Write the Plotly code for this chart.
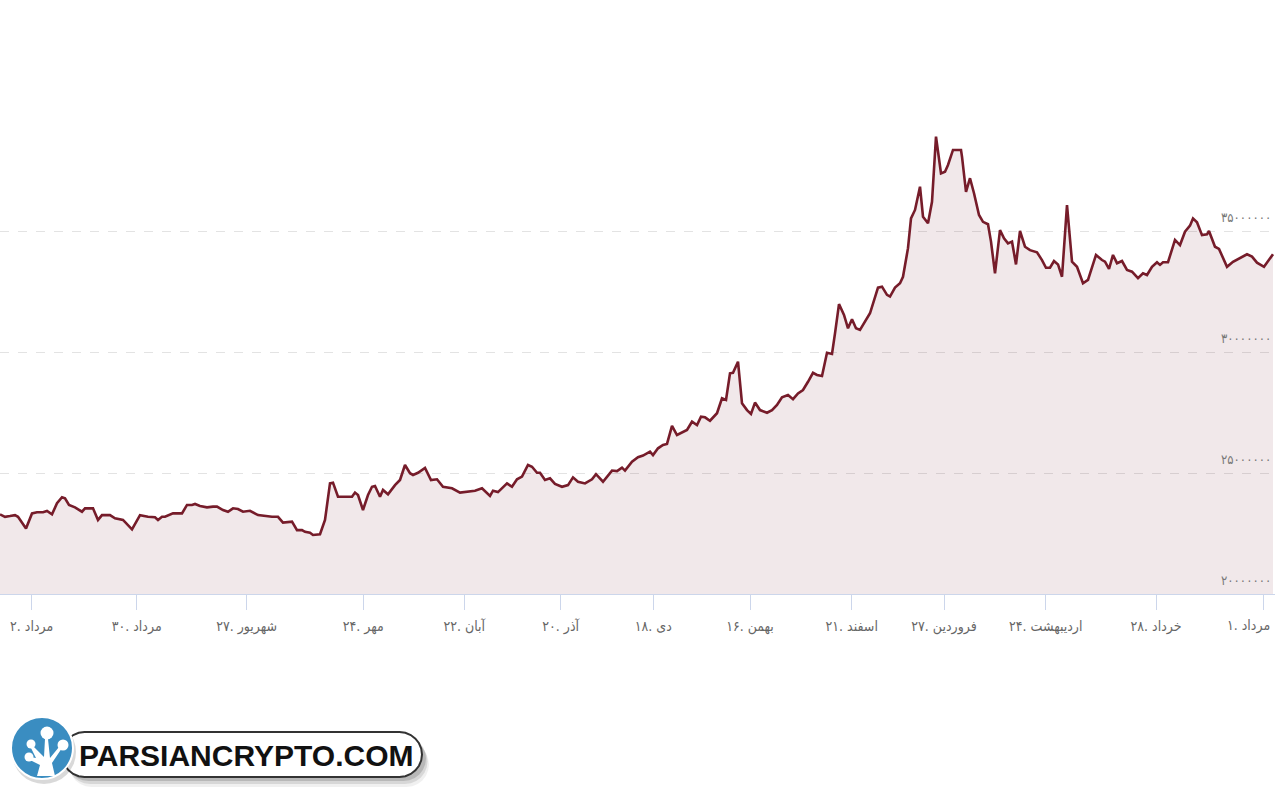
import plotly.graph_objects as go

# ---------------- data ----------------
# session index (time axis) and price (millions of rial)
t = [0, 5, 10, 15, 18, 26, 32, 37, 43, 47, 52, 57, 62, 65, 69, 75, 82, 85, 93, 98,
     102, 110, 115, 123, 132, 140, 148, 155, 158, 162, 165, 173, 182, 187, 192, 195, 200, 207, 213, 217,
     223, 228, 233, 238, 243, 250, 258, 265, 272, 278, 283, 292, 297, 302, 305, 310, 313, 320, 325, 330,
     333, 338, 347, 352, 355, 358, 363, 368, 372, 375, 380, 383, 388, 395, 400, 405, 410, 413, 418, 425,
     431, 437, 443, 452, 460, 468, 475, 482, 490, 493, 498, 507, 512, 517, 522, 528, 532, 537, 540, 545,
     550, 555, 562, 568, 573, 578, 585, 592, 596, 603, 612, 617, 622, 625, 632, 638, 643, 650, 653, 658,
     663, 667, 672, 677, 682, 687, 692, 697, 701, 705, 710, 717, 722, 726, 730, 733, 738, 742, 747, 751,
     755, 760, 767, 772, 777, 782, 788, 793, 798, 803, 808, 813, 817, 822, 827, 832, 835, 839, 844, 848,
     852, 856, 860, 865, 870, 878, 882, 887, 890, 895, 900, 903, 908, 911, 915, 920, 923, 928, 932, 936,
     941, 945, 948, 953, 961, 962, 966, 970, 974, 979, 983, 988, 991, 995, 1000, 1004, 1008, 1012, 1016, 1020,
     1025, 1030, 1037, 1042, 1046, 1050, 1054, 1058, 1062, 1067, 1072, 1077, 1083, 1088, 1096, 1102, 1105, 1109, 1113, 1117,
     1122, 1127, 1132, 1138, 1143, 1147, 1152, 1157, 1160, 1163, 1168, 1175, 1180, 1185, 1190, 1193, 1197, 1202, 1207, 1209,
     1215, 1219, 1227, 1233, 1242, 1247, 1252, 1257, 1264, 1273]

price_m = [23.29, 23.19, 23.22, 23.26, 23.19, 22.71, 23.33, 23.38, 23.38, 23.43, 23.29, 23.75, 24.00, 23.95, 23.68, 23.58, 23.40, 23.54, 23.54, 23.06,
           23.26, 23.26, 23.13, 23.06, 22.67, 23.26, 23.19, 23.17, 23.06, 23.19, 23.19, 23.33, 23.33, 23.68, 23.68, 23.72, 23.64, 23.58, 23.61, 23.61,
           23.47, 23.40, 23.54, 23.51, 23.40, 23.44, 23.26, 23.22, 23.19, 23.19, 22.95, 22.99, 22.64, 22.64, 22.57, 22.53, 22.44, 22.47, 23.06, 24.57,
           24.60, 24.02, 24.02, 24.02, 24.19, 24.09, 23.47, 24.09, 24.43, 24.46, 24.02, 24.30, 24.12, 24.50, 24.71, 25.33, 24.99, 24.92, 25.01, 25.21,
           24.71, 24.74, 24.43, 24.37, 24.19, 24.24, 24.27, 24.37, 24.05, 24.27, 24.21, 24.57, 24.43, 24.74, 24.85, 25.33, 25.26, 25.01, 25.01, 24.71,
           24.78, 24.55, 24.43, 24.50, 24.82, 24.64, 24.57, 24.74, 24.95, 24.64, 25.10, 25.08, 25.22, 25.10, 25.47, 25.65, 25.72, 25.88, 25.74, 26.02,
           26.16, 26.20, 26.95, 26.57, 26.67, 26.78, 27.12, 26.98, 27.33, 27.30, 27.16, 27.47, 28.09, 28.02, 29.12, 29.14, 29.60, 27.88, 27.60, 27.44,
           27.91, 27.60, 27.49, 27.60, 27.81, 28.13, 28.22, 28.05, 28.29, 28.43, 28.77, 29.14, 29.05, 29.01, 29.97, 29.92, 30.77, 31.98, 31.53, 30.98,
           31.35, 30.98, 30.91, 31.24, 31.60, 32.66, 32.70, 32.36, 32.29, 32.66, 32.84, 33.11, 34.29, 35.52, 35.87, 36.83, 35.59, 35.32, 36.21, 38.90,
           37.38, 37.45, 37.73, 38.35, 38.35, 38.07, 36.62, 37.18, 36.56, 35.66, 35.38, 35.28, 34.56, 33.25, 35.04, 34.70, 34.49, 34.56, 33.62, 35.00,
           34.35, 34.21, 34.12, 33.80, 33.48, 33.48, 33.76, 33.62, 33.11, 36.07, 33.73, 33.52, 32.84, 32.98, 34.01, 33.80, 33.73, 33.43, 34.01, 33.67,
           33.76, 33.39, 33.32, 33.05, 33.25, 33.18, 33.52, 33.71, 33.60, 33.71, 33.71, 34.63, 34.42, 34.97, 35.22, 35.52, 35.36, 34.83, 34.86, 35.00,
           34.35, 34.26, 33.52, 33.73, 33.94, 34.04, 33.94, 33.69, 33.52, 34.04]

tick_pos = [31.7, 136.7, 246.7, 363.3, 464.3, 560.7, 653.3, 750, 851.7, 944, 1045.7, 1156, 1263.3]
tick_day = ["۲", "۳۰", "۲۷", "۲۴", "۲۲", "۲۰", "۱۸", "۱۶", "۲۱", "۲۷", "۲۴", "۲۸", "۱"]
tick_month = ["مرداد", "مرداد", "شهریور", "مهر", "آبان", "آذر", "دی", "بهمن",
              "اسفند", "فروردین", "اردیبهشت", "خرداد", "مرداد"]

y_ticks = [20000000, 25000000, 30000000, 35000000]
y_tick_text = ["۲۰۰۰۰۰۰۰", "۲۵۰۰۰۰۰۰", "۳۰۰۰۰۰۰۰", "۳۵۰۰۰۰۰۰"]

price = [v * 1e6 for v in price_m]
tick_text = [f"{d}. {m}" for d, m in zip(tick_day, tick_month)]

# ---------------- layout geometry ----------------
L, R, T, B = 0, 5, 115, 206
W, H = 1280 - L - R, 800 - T - B
LABEL_FONT = dict(family="DejaVu Sans Condensed, DejaVu Sans", size=14, color="#666666")


def px(x):
    return (x - L) / W


def py(y):
    return (T + H - y) / H


fig = go.Figure()
fig.add_trace(go.Scatter(
    x=t, y=price, mode="lines",
    line=dict(color="#761c2a", width=2.6),
    fill="tozeroy", fillcolor="rgba(122,31,45,0.10)",
    hoverinfo="skip", showlegend=False,
))

annotations = []
for v, txt in zip(y_ticks, y_tick_text):
    annotations.append(dict(
        x=1, xref="paper", y=v, yref="y", text=txt, showarrow=False,
        xanchor="right", yanchor="middle", yshift=14, xshift=-2,
        font=dict(family="DejaVu Sans Condensed, DejaVu Sans", size=13, color="#777777"),
    ))

# last x tick label is kept inside the chart (like the original), drawn as annotation
axis_labels = list(tick_text)
last_label = axis_labels[-1]
axis_labels[-1] = ""
annotations.append(dict(
    x=1, xref="paper", y=0, yref="paper", text=last_label, showarrow=False,
    xanchor="right", yanchor="top", yshift=-21, xshift=-3, font=LABEL_FONT,
))

# ---------------- logo (watermark) ----------------
shapes = []


def pill(x0, y0, x1, y1, n=12):
    import math
    r = (y1 - y0) / 2
    cy = (y0 + y1) / 2
    pts = []
    for i in range(n + 1):
        a = -math.pi / 2 + math.pi * i / n
        pts.append((x1 - r + r * math.cos(a), cy + r * math.sin(a)))
    for i in range(n + 1):
        a = math.pi / 2 + math.pi * i / n
        pts.append((x0 + r + r * math.cos(a), cy + r * math.sin(a)))
    return "M " + " L ".join(f"{px(a):.5f},{py(b):.5f}" for a, b in pts) + " Z"


for off, op in [(10, 0.06), (7, 0.10), (4, 0.14)]:
    shapes.append(dict(type="path", xref="paper", yref="paper", path=pill(64 + off / 2, 732 + off, 424 + off / 2, 777 + off),
                       fillcolor=f"rgba(0,0,0,{op})", line=dict(width=0), layer="above"))
shapes.append(dict(type="path", xref="paper", yref="paper", path=pill(62, 732, 422, 777),
                   fillcolor="white", line=dict(color="#333333", width=2), layer="above"))
shapes.append(dict(type="circle", xref="paper", yref="paper", x0=px(12), x1=px(76), y0=py(720), y1=py(784),
                   fillcolor="rgba(0,0,0,0.15)", line=dict(width=0), layer="above"))
shapes.append(dict(type="circle", xref="paper", yref="paper", x0=px(11), x1=px(73), y0=py(717), y1=py(779),
                   fillcolor="#3a8dc1", line=dict(color="white", width=2), layer="above"))
for cx, cy, r in [(47, 733, 6.5), (31, 744, 4.5), (63, 745, 5.5), (29, 757, 4.5)]:
    shapes.append(dict(type="circle", xref="paper", yref="paper", x0=px(cx - r), x1=px(cx + r),
                       y0=py(cy + r), y1=py(cy - r), fillcolor="white", line=dict(width=0), layer="above"))
trunk = [(37, 776), (55, 776), (52, 763), (62, 748), (59, 747), (50, 758), (48, 739), (45, 739),
         (44, 757), (33, 746), (31, 748), (36, 758), (30, 757), (30, 760), (40, 765)]
shapes.append(dict(type="path", xref="paper", yref="paper",
                   path="M " + " L ".join(f"{px(a):.5f},{py(b):.5f}" for a, b in trunk) + " Z",
                   fillcolor="white", line=dict(width=0), layer="above"))

annotations.append(dict(
    x=px(246), y=py(755), xref="paper", yref="paper", text="<b>PARSIANCRYPTO.COM</b>",
    showarrow=False, xanchor="center", yanchor="middle",
    font=dict(family="Liberation Sans, Arial", size=30, color="#111111"),
))

fig.update_layout(
    width=1280, height=800,
    margin=dict(l=L, r=R, t=T, b=B),
    paper_bgcolor="white", plot_bgcolor="white",
    hovermode=False,
    xaxis=dict(
        range=[0, W], tickmode="array", tickvals=tick_pos, ticktext=axis_labels,
        showgrid=False, zeroline=False, showline=True, linecolor="#ccd6eb", linewidth=1,
        ticks="outside", ticklen=15, tickcolor="#ccd6eb", tickwidth=1,
        ticklabelstandoff=4, tickfont=LABEL_FONT,
        fixedrange=True,
    ),
    yaxis=dict(
        range=[20e6, 20e6 + H * 5e6 / 121], tickmode="array", tickvals=y_ticks[1:],
        showticklabels=False, showgrid=True, gridcolor="#e3e3e3", griddash="dash", gridwidth=1,
        zeroline=False, showline=False, fixedrange=True,
    ),
    shapes=shapes,
    annotations=annotations,
)

fig.write_html("out.html")
